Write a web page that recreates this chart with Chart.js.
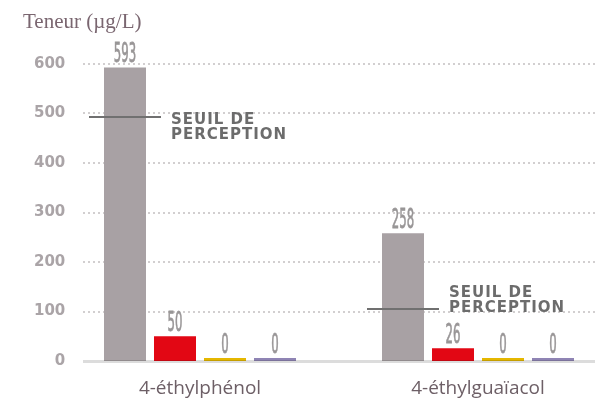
<!DOCTYPE html>
<html>
<head>
<meta charset="utf-8">
<script src="https://cdn.jsdelivr.net/npm/chart.js@4"></script>
<style>
  html, body { margin: 0; padding: 0; background: #fff; width: 595px; height: 400px; overflow: hidden; }
  #wrap { position: relative; width: 620px; height: 400px; }
</style>
</head>
<body>
<div id="wrap"><canvas id="chart" width="620" height="400"></canvas></div>
<script>
// Data
const categories = ["4-éthylphénol", "4-éthylguaïacol"];
const seriesNames = ["Série 1", "Série 2", "Série 3", "Série 4"];
const series1 = [593, 258];
const series2 = [50, 26];
const series3 = [0, 0];
const series4 = [0, 0];
const yTicks = [0, 100, 200, 300, 400, 500, 600];
const thresholds = [493, 105];
const thresholdText = ["SEUIL DE", "PERCEPTION"];
const axisTitle = "Teneur (µg/L)";

// Colours
const barColours = ["#a8a1a4", "#e20714", "#e5b700", "#8f84b4"];

// label offsets for the "seuil" text, one per category
const thresholdTextDy = [7, -12];

const ctxEl = document.getElementById("chart");

// dotted grid + zero line + labels, drawn by hand so they start at x=83
const decorations = {
  id: "decorations",
  beforeDatasetsDraw(chart) {
    const { ctx } = chart;
    const y = chart.scales.y;
    ctx.save();
    ctx.strokeStyle = "#d2cfd0";
    ctx.lineWidth = 2;
    ctx.setLineDash([2, 3]);
    yTicks.forEach((v) => {
      if (v === 0) return;
      const py = Math.round(y.getPixelForValue(v));
      ctx.beginPath();
      ctx.moveTo(83, py);
      ctx.lineTo(595, py);
      ctx.stroke();
    });
    ctx.restore();
  },
  afterDatasetsDraw(chart) {
    const { ctx } = chart;
    const y = chart.scales.y;

    // zero line, blended over bar bottoms
    ctx.save();
    ctx.globalCompositeOperation = "multiply";
    ctx.strokeStyle = "#dcdcdc";
    ctx.lineWidth = 3;
    const y0 = y.getPixelForValue(0) + 0.5;
    ctx.beginPath();
    ctx.moveTo(83, y0);
    ctx.lineTo(595, y0);
    ctx.stroke();
    ctx.restore();

    // value labels (condensed look)
    ctx.save();
    ctx.fillStyle = "#999697";
    ctx.strokeStyle = "#999697";
    ctx.lineWidth = 0.8;
    ctx.font = '26px "DejaVu Sans"';
    ctx.textAlign = "center";
    ctx.textBaseline = "alphabetic";
    chart.data.datasets.forEach((ds, di) => {
      chart.getDatasetMeta(di).data.forEach((bar, i) => {
        ctx.save();
        ctx.translate(bar.x, bar.y - 5);
        ctx.scale(0.45, 1);
        ctx.fillText(String(ds.data[i]), 0, 0);
        ctx.strokeText(String(ds.data[i]), 0, 0);
        ctx.restore();
      });
    });
    ctx.restore();

    // perception thresholds
    const grayBars = chart.getDatasetMeta(0).data;
    ctx.save();
    ctx.strokeStyle = "#707070";
    ctx.fillStyle = "#6c6c6c";
    ctx.lineWidth = 2;
    ctx.font = 'bold 15px "DejaVu Sans"';
    ctx.letterSpacing = "1px";
    ctx.textAlign = "left";
    thresholds.forEach((v, i) => {
      const bar = grayBars[i];
      const py = y.getPixelForValue(v);
      const x1 = bar.x - 36;
      const x2 = bar.x + 36;
      ctx.beginPath();
      ctx.moveTo(x1, py);
      ctx.lineTo(x2, py);
      ctx.stroke();
      thresholdText.forEach((t, k) => {
        ctx.fillText(t, x2 + 10, py + thresholdTextDy[i] + k * 15);
      });
    });
    ctx.restore();
  },
  afterDraw(chart) {
    const { ctx } = chart;
    ctx.save();
    ctx.fillStyle = "#7a6670";
    ctx.font = '21px "Liberation Serif"';
    ctx.textAlign = "left";
    ctx.textBaseline = "alphabetic";
    ctx.fillText(axisTitle, 23, 28);
    ctx.restore();
  },
};

const allSeries = [series1, series2, series3, series4];

new Chart(ctxEl, {
  type: "bar",
  data: {
    labels: categories,
    datasets: allSeries.map((values, i) => ({
      label: seriesNames[i],
      data: values,
      backgroundColor: barColours[i],
      borderWidth: 0,
      minBarLength: 3,
      categoryPercentage: 200 / 278,
      barPercentage: 0.84,
    })),
  },
  options: {
    responsive: false,
    animation: false,
    layout: { padding: { top: 64, right: 3, bottom: 0, left: 0 } },
    plugins: {
      legend: { display: false },
      tooltip: { enabled: false },
    },
    scales: {
      x: {
        grid: { display: false, drawTicks: false },
        border: { display: false },
        ticks: {
          color: "#6d5f66",
          font: { family: "'Open Sans'", size: 19 },
          padding: 16,
        },
        afterFit(scale) {
          scale.height = 39;
        },
      },
      y: {
        min: 0,
        max: 600,
        grid: { display: false, drawTicks: false },
        border: { display: false },
        ticks: {
          stepSize: 100,
          mirror: true,
          crossAlign: "far",
          color: "#aaa4a7",
          font: { family: "'DejaVu Sans'", size: 15, weight: "bold" },
          padding: -27,
        },
        afterFit(scale) {
          scale.width = 61;
        },
      },
    },
  },
  plugins: [decorations],
});
</script>
</body>
</html>
